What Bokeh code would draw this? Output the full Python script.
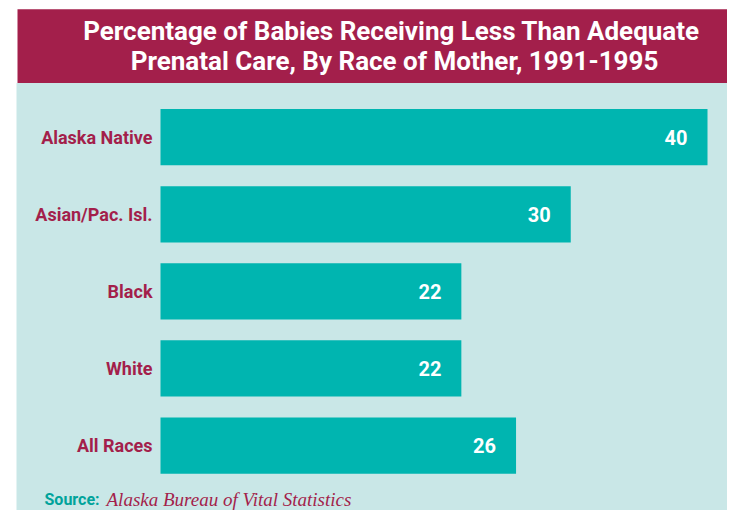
from bokeh.plotting import figure
from bokeh.models import Range1d, BoxAnnotation, ColumnDataSource
from bokeh.core.properties import value
from bokeh.embed import file_html
from bokeh.resources import INLINE

categories = ["Alaska Native", "Asian/Pac. Isl.", "Black", "White", "All Races"]
percentages = [40, 30, 22, 22, 26]
title_lines = ["Percentage of Babies Receiving Less Than Adequate",
               "Prenatal Care, By Race of Mother, 1991-1995"]
source_label = "Source:"
source_text = "Alaska Bureau of Vital Statistics"

CRIMSON = "#A31F4B"
TEAL = "#00B5B0"
BG = "#C9E7E7"
SRC_TEAL = "#00A39B"
FONT = "Roboto"

W, H = 727, 510
SY = H / 526.0                        # vertical squeeze of the reference layout
X0_PX, PX_PER_UNIT = 160, 13.675      # where value 0 sits, px per percent
Y0_PX, PX_PER_ROW = 141 * SY, 79.5 * SY


def xd(px):
    return (px - X0_PX) / PX_PER_UNIT


def yd(ref_px):
    return (ref_px * SY - Y0_PX) / PX_PER_ROW


p = figure(width=W, height=H, output_backend="svg", toolbar_location=None,
           x_range=Range1d(xd(0), xd(W)),
           y_range=Range1d(yd(526), yd(0)),
           min_border=0)
p.axis.visible = False
p.grid.visible = False
p.outline_line_color = None
p.background_fill_color = "white"
p.border_fill_color = "white"

# panels
p.add_layout(BoxAnnotation(left=xd(16), top=yd(85), fill_color=BG, fill_alpha=1,
                           line_color=None, level="underlay"))
p.add_layout(BoxAnnotation(left=xd(17), top=yd(9), bottom=yd(85), fill_color=CRIMSON,
                           fill_alpha=1, line_color=None, level="underlay"))

rows = list(range(len(categories)))
src = ColumnDataSource(dict(
    y=rows, cat=categories, val=percentages,
    lab=[str(v) for v in percentages],
    labx=[v - 20 / PX_PER_UNIT for v in percentages],
))

p.hbar(y="y", left=0, right="val", height=58 * SY / PX_PER_ROW, source=src,
       fill_color=TEAL, line_color=None)

p.text(x=xd(152), y="y", text="cat", source=src, text_align="right",
       text_baseline="middle", text_color=CRIMSON, text_font=value(FONT),
       text_font_style="bold", text_font_size="18px")

p.text(x="labx", y="y", text="lab", source=src, text_align="right",
       text_baseline="middle", text_color="white", text_font=value(FONT),
       text_font_style="bold", text_font_size="20px")

p.text(x=[xd(391), xd(394)], y=[yd(31), yd(62)], text=title_lines,
       text_align="center", text_baseline="middle", text_color="white",
       text_font=value(FONT), text_font_style="bold", text_font_size="26px")

p.text(x=[xd(44)], y=[yd(515)], text=[source_label], text_align="left",
       text_baseline="middle", text_color=SRC_TEAL, text_font=value(FONT),
       text_font_style="bold", text_font_size="16px")
p.text(x=[xd(106)], y=[yd(515)], text=[source_text], text_align="left",
       text_baseline="middle", text_color=CRIMSON, text_font=value("Liberation Serif"),
       text_font_style="italic", text_font_size="19px")

open("out.html", "w").write(file_html(p, INLINE))
